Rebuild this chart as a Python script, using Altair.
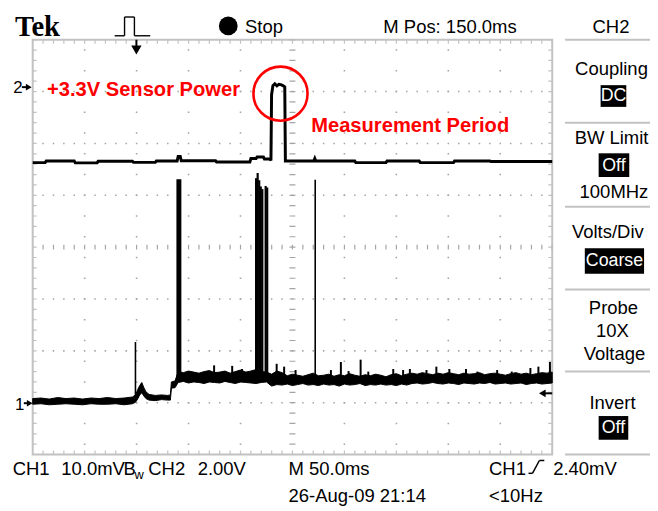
import altair as alt
import pandas as pd

# ---------------- values read from the oscilloscope screen ----------------
# horizontal: time in ms (M 50.0 ms/div, 10 divisions on screen)
# CH1 in mV (10.0 mV/div), CH2 in V (2.00 V/div)

ch1_t = [0, 8, 16, 24, 32, 40, 48, 56, 64, 72, 80, 88, 96,
         99, 101, 103, 105, 107, 109, 112, 118, 124, 130, 132.5, 133.5, 137,
         140, 145, 150, 155, 160, 165, 170, 175, 180, 185, 190, 195, 200, 205, 210, 215, 220, 225,
         230, 235, 240, 245, 250, 255, 260, 265, 270, 275, 280, 285, 290, 295, 300, 305, 310, 315,
         320, 325, 330, 335, 340, 345, 350, 355, 360,
         365, 370, 375, 380, 385, 390, 395, 400, 405, 410, 415, 420, 425, 430, 435, 440, 445, 450,
         455, 460, 465, 470, 475, 480, 485, 490, 495, 500]
ch1_lo = [-0.2, -0.1, -0.3, -0.2, -0.1, -0.2, -0.3, -0.1, -0.2, -0.2, -0.1, -0.3, -0.1,
          0.2, 0.8, 1.6, 2.0, 1.4, 0.9, 0.6, 0.5, 0.7, 0.6, 0.6, 2.9, 3.0,
          4.0, 4.2, 3.9, 4.1, 4.0, 3.8, 4.1, 4.0, 3.9, 4.2, 4.0, 3.8, 4.1, 4.0, 3.9, 3.8, 4.0, 4.1,
          3.3, 3.6, 3.5, 3.7, 3.4, 3.6, 3.8, 3.5, 3.6, 3.4, 3.7, 3.5, 3.6, 3.3, 3.7, 3.5, 3.6, 3.8,
          3.4, 3.6, 3.5, 3.7, 3.5, 3.6, 3.4, 3.7, 3.5,
          3.8, 3.9, 3.7, 3.8, 4.0, 3.8, 3.7, 3.9, 3.8, 3.6, 3.9, 3.8, 3.7, 3.9, 3.8, 4.0, 3.7, 3.8,
          3.9, 3.7, 3.8, 3.9, 3.6, 3.8, 3.9, 3.7, 3.8, 3.9]
ch1_hi = [0.9, 1.0, 0.8, 1.1, 0.9, 1.0, 0.8, 1.0, 0.9, 1.1, 0.9, 1.0, 1.2,
          1.6, 2.6, 3.4, 4.0, 3.0, 2.2, 1.7, 1.5, 1.6, 1.5, 1.6, 4.1, 4.3,
          6.1, 5.9, 6.2, 6.0, 5.8, 6.1, 6.3, 5.9, 6.0, 6.2, 5.8, 6.1, 6.4, 6.0, 6.2, 6.5, 6.1, 6.0,
          5.6, 6.2, 5.9, 5.3, 5.6, 5.4, 5.2, 5.5, 5.8, 5.3, 5.4, 5.6, 5.2, 5.5, 5.3, 5.7, 5.4, 5.2,
          5.5, 5.3, 5.6, 5.4, 5.1, 5.5, 5.7, 5.3, 5.6,
          5.8, 5.6, 5.9, 5.7, 5.5, 5.8, 5.6, 5.9, 5.7, 5.5, 5.8, 5.6, 5.7, 5.9, 5.5, 5.7, 5.8, 5.6,
          5.4, 5.7, 5.9, 5.6, 5.8, 5.5, 5.7, 5.9, 5.8, 6.0]

big_spike_t = [140.7]
big_spike_top = [43.2]
cluster_t = [215.0, 216.5, 218.0, 219.5, 221.0, 224.2, 225.7]
cluster_top = [43.4, 44.4, 43.0, 41.8, 41.3, 41.9, 41.6]
thin_t = [98.9, 271.9]
thin_base = [0.5, 5.0]
thin_top = [11.8, 43.1]
small_t = [174.6, 192.0, 201.5, 234.8, 242.0, 253.0, 287.0, 296.6, 304.0, 315.6, 323.0, 347.0,
           356.5, 363.0, 379.0, 388.5, 401.0, 417.0, 428.0, 447.0, 461.0, 479.0, 486.7, 497.8]
small_top = [7.3, 7.2, 6.6, 7.6, 7.05, 6.4, 6.4, 7.95, 6.2, 8.4, 6.1, 6.6,
             6.4, 6.6, 6.4, 7.05, 6.6, 6.6, 6.1, 6.4, 6.1, 6.8, 7.05, 7.95]

ch2_t = [0, 12, 13, 40, 41, 62, 63, 96, 97, 118, 119, 139, 140, 142, 143, 176, 177, 209, 210, 215,
         216, 222, 223, 228.5, 229.3, 229.9, 231.2, 233, 235, 237, 239.5, 241.8, 242.6, 243.2,
         270.5, 271.5, 272.5, 310, 311, 340, 341, 372, 373, 405, 406, 440, 441, 500]
ch2_v = [-2.92, -2.92, -2.86, -2.86, -2.93, -2.93, -2.87, -2.87, -2.91, -2.91, -2.86, -2.86,
         -2.68, -2.68, -2.85, -2.85, -2.90, -2.90, -2.76, -2.76, -2.70, -2.70, -2.78, -2.78,
         -2.84, -0.30, 0.05, 0.12, 0.04, 0.10, 0.08, 0.03, 0.0, -2.86, -2.86, -2.76, -2.86,
         -2.86, -2.92, -2.92, -2.86, -2.86, -2.92, -2.92, -2.86, -2.86, -2.88, -2.88]

annot_t = [238.5]      # red circle around the CH2 pulse top
annot_v = [-0.26]

T_DOMAIN = [0, 500]
CH1_DOMAIN = [-9.9, 70.1]     # CH1 ground marker 0.99 div above bottom
CH2_DOMAIN = [-14.18, 1.82]   # CH2 ground marker 7.09 div above bottom
DIV_DOMAIN = [0, 8]

# ---------------- styles ----------------
SANS = "Liberation Sans, Arial, sans-serif"
FS = 18.7
RED = "#ff0000"
FRAME = "#c2c2c2"
DOT = "#a4a4a4"
W, H = 526, 420

XS = alt.Scale(domain=T_DOMAIN, nice=False, zero=False)
YD = alt.Scale(domain=DIV_DOMAIN, nice=False, zero=False)
Y1 = alt.Scale(domain=CH1_DOMAIN, nice=False, zero=False)
Y2 = alt.Scale(domain=CH2_DOMAIN, nice=False, zero=False)
ONE = alt.Data(values=[{}])


def X(f="t"):
    return alt.X(f"{f}:Q", scale=XS, axis=None)


def txt(s, x, y, size=FS, font=SANS, color="black", align="left", weight="normal",
        baseline="alphabetic"):
    return alt.Chart(ONE).mark_text(text=s, font=font, fontSize=size, color=color, align=align,
                                    fontWeight=weight, baseline=baseline).encode(
        x=alt.value(x), y=alt.value(y))


def seg(x1, y1, x2, y2, color="black", width=1.5):
    return alt.Chart(ONE).mark_rule(color=color, strokeWidth=width).encode(
        x=alt.value(x1), y=alt.value(y1), x2=alt.value(x2), y2=alt.value(y2))


def box(x1, y1, x2, y2):
    return alt.Chart(ONE).mark_rect(color="black").encode(
        x=alt.value(x1), y=alt.value(y1), x2=alt.value(x2), y2=alt.value(y2))


def sym(shape, x, y, size):
    return alt.Chart(ONE).mark_point(shape=shape, filled=True, size=size, color="black",
                                     opacity=1).encode(x=alt.value(x), y=alt.value(y))


layers = []

# ---- graticule ----
layers.append(alt.Chart(ONE).mark_rect(fillOpacity=0, stroke=FRAME, strokeWidth=2).encode(
    x=alt.value(0), x2=alt.value(W), y=alt.value(0), y2=alt.value(H)))

vdf = pd.DataFrame({"t": [50, 100, 150, 200, 300, 350, 400, 450], "a": 0.185, "b": 8})
layers.append(alt.Chart(vdf).mark_rule(color=DOT, strokeWidth=1.6, strokeDash=[1.6, 19.4]).encode(
    x=X(), y=alt.Y("a:Q", scale=YD, axis=None), y2="b:Q"))
hdf = pd.DataFrame({"y": [1, 2, 3, 5, 6, 7], "a": 9.29, "b": 500})
layers.append(alt.Chart(hdf).mark_rule(color=DOT, strokeWidth=1.6, strokeDash=[1.5, 9.02]).encode(
    x=X("a"), x2="b:Q", y=alt.Y("y:Q", scale=YD, axis=None)))
# centre lines with minor ticks
cdf = pd.DataFrame({"y": [4], "a": 9.43, "b": 500})
layers.append(alt.Chart(cdf).mark_rule(color=DOT, strokeWidth=5, strokeDash=[1.2, 9.32]).encode(
    x=X("a"), x2="b:Q", y=alt.Y("y:Q", scale=YD, axis=None)))
cvdf = pd.DataFrame({"t": [250], "a": 0.1886, "b": 8})
layers.append(alt.Chart(cvdf).mark_rule(color=DOT, strokeWidth=6, strokeDash=[1.2, 9.3]).encode(
    x=X(), y=alt.Y("a:Q", scale=YD, axis=None), y2="b:Q"))
# edge ticks
ehdf = pd.DataFrame({"y": [7.962, 0.038], "a": 9.43, "b": 500})
layers.append(alt.Chart(ehdf).mark_rule(color=FRAME, strokeWidth=4, strokeDash=[1.2, 9.32]).encode(
    x=X("a"), x2="b:Q", y=alt.Y("y:Q", scale=YD, axis=None)))
evdf = pd.DataFrame({"t": [1.9, 498.1], "a": 0.1886, "b": 8})
layers.append(alt.Chart(evdf).mark_rule(color=FRAME, strokeWidth=4, strokeDash=[1.2, 9.3]).encode(
    x=X(), y=alt.Y("a:Q", scale=YD, axis=None), y2="b:Q"))

# ---- CH1 trace ----
ch1 = pd.DataFrame({"t": ch1_t, "lo": ch1_lo, "hi": ch1_hi})
layers.append(alt.Chart(ch1).mark_area(color="black", opacity=1, stroke="black",
                                       strokeWidth=1.0).encode(
    x=X(), y=alt.Y("lo:Q", scale=Y1, axis=None), y2="hi:Q"))
big = pd.DataFrame({"t": big_spike_t, "b": 4.5, "top": big_spike_top})
layers.append(alt.Chart(big).mark_rule(color="black", strokeWidth=5).encode(
    x=X(), y=alt.Y("b:Q", scale=Y1, axis=None), y2="top:Q"))
clu = pd.DataFrame({"t": cluster_t, "b": 4.5, "top": cluster_top})
layers.append(alt.Chart(clu).mark_rule(color="black", strokeWidth=2.2).encode(
    x=X(), y=alt.Y("b:Q", scale=Y1, axis=None), y2="top:Q"))
thin = pd.DataFrame({"t": thin_t, "b": thin_base, "top": thin_top})
layers.append(alt.Chart(thin).mark_rule(color="black", strokeWidth=1.6).encode(
    x=X(), y=alt.Y("b:Q", scale=Y1, axis=None), y2="top:Q"))
sm = pd.DataFrame({"t": small_t, "b": 5.0, "top": small_top})
layers.append(alt.Chart(sm).mark_rule(color="black", strokeWidth=2).encode(
    x=X(), y=alt.Y("b:Q", scale=Y1, axis=None), y2="top:Q"))

# ---- CH2 trace ----
ch2 = pd.DataFrame({"t": ch2_t, "v": ch2_v})
layers.append(alt.Chart(ch2).mark_line(color="black", strokeWidth=3).encode(
    x=X(), y=alt.Y("v:Q", scale=Y2, axis=None), order="t:Q"))

# ---- red annotations ----
an = pd.DataFrame({"t": annot_t, "v": annot_v})
layers.append(alt.Chart(an).mark_point(shape="circle", size=3000, color=RED, strokeWidth=2.6,
                                       filled=False, opacity=1).encode(
    x=X(), y=alt.Y("v:Q", scale=Y2, axis=None)))
layers.append(txt("+3.3V Sensor Power", 14.5, 57, size=20.4, color=RED, weight="bold"))
layers.append(txt("Measurement Period", 282, 93, size=20.4, color=RED, weight="bold"))

# ---- top status bar ----
layers.append(txt("Tek", -18, -4, size=29, font="Liberation Serif, Times New Roman, serif",
                  weight="bold"))
for a in [(83, -4, 93, -4), (93, -4, 93, -23), (93, -23, 103, -23), (103, -23, 103, -4),
          (103, -4, 119, -4)]:
    layers.append(seg(*a, width=1.4))
layers.append(seg(105, 0, 105, 7, width=2))
layers.append(sym("triangle-down", 105, 10.5, 110))
layers.append(sym("circle", 198, -14, 361))
layers.append(txt("Stop", 215, -7))
layers.append(txt("M Pos: 150.0ms", 355, -7))
layers.append(txt("CH2", 585.5, -7, align="center"))

# ---- right menu panel ----
for yy in [0, 84, 169, 253, 336, 420]:
    layers.append(seg(539, yy, 625, yy, color=FRAME, width=2))
layers.append(txt("Coupling", 586, 36, align="center"))
layers.append(box(575, 46, 601, 68))
layers.append(txt("DC", 588, 57.5, color="white", align="center", baseline="middle", size=18))
layers.append(txt("BW Limit", 548.7, 106))
layers.append(box(573, 115, 604, 139))
layers.append(txt("Off", 588.5, 127.5, color="white", align="center", baseline="middle", size=18))
layers.append(txt("100MHz", 588.5, 160, align="center"))
layers.append(txt("Volts/Div", 546, 201))
layers.append(box(559, 211, 619, 237))
layers.append(txt("Coarse", 589, 224.5, color="white", align="center", baseline="middle", size=18))
layers.append(txt("Probe", 588, 278, align="center"))
layers.append(txt("10X", 587, 301, align="center"))
layers.append(txt("Voltage", 589, 324, align="center"))
layers.append(txt("Invert", 587, 374, align="center"))
layers.append(box(573, 381, 603, 405))
layers.append(txt("Off", 588, 393.5, color="white", align="center", baseline="middle", size=18))

# ---- channel markers ----
layers.append(txt("2", -19.7, 53.7, size=17))
layers.append(seg(-11, 48, -6, 48, width=2))
layers.append(sym("triangle-right", -4, 48, 45))
layers.append(txt("1", -18, 374.7, size=17))
layers.append(seg(-9, 368, -5, 368, width=2))
layers.append(sym("triangle-right", -3, 368, 45))
layers.append(seg(517, 358, 526, 358, width=2))
layers.append(sym("triangle-left", 516, 358, 60))

# ---- bottom readouts ----
layers.append(txt("CH1", -20.3, 441))
layers.append(txt("10.0mV", 29, 441))
layers.append(txt("B", 92, 441))
layers.append(txt("w", 103, 445, size=13))
layers.append(txt("CH2", 117, 441))
layers.append(txt("2.00V", 167, 441))
layers.append(txt("M 50.0ms", 259, 441))
layers.append(txt("CH1", 462, 441))
for a in [(502, 439, 506, 439), (506, 439, 513, 426), (513, 426, 518, 426)]:
    layers.append(seg(*a, width=1.5))
layers.append(txt("2.40mV", 527, 441))
layers.append(txt("26-Aug-09 21:14", 259, 468))
layers.append(txt("<10Hz", 462, 468))

chart = alt.layer(*layers).resolve_scale(y="independent").properties(
    width=W, height=H,
    padding={"left": 25, "top": 29, "right": 99, "bottom": 52},
    autosize=alt.AutoSizeParams(type="none"),
    background="white",
).configure_view(stroke=None)

chart.save("out.html", embed_options={"renderer": "svg", "actions": False})
